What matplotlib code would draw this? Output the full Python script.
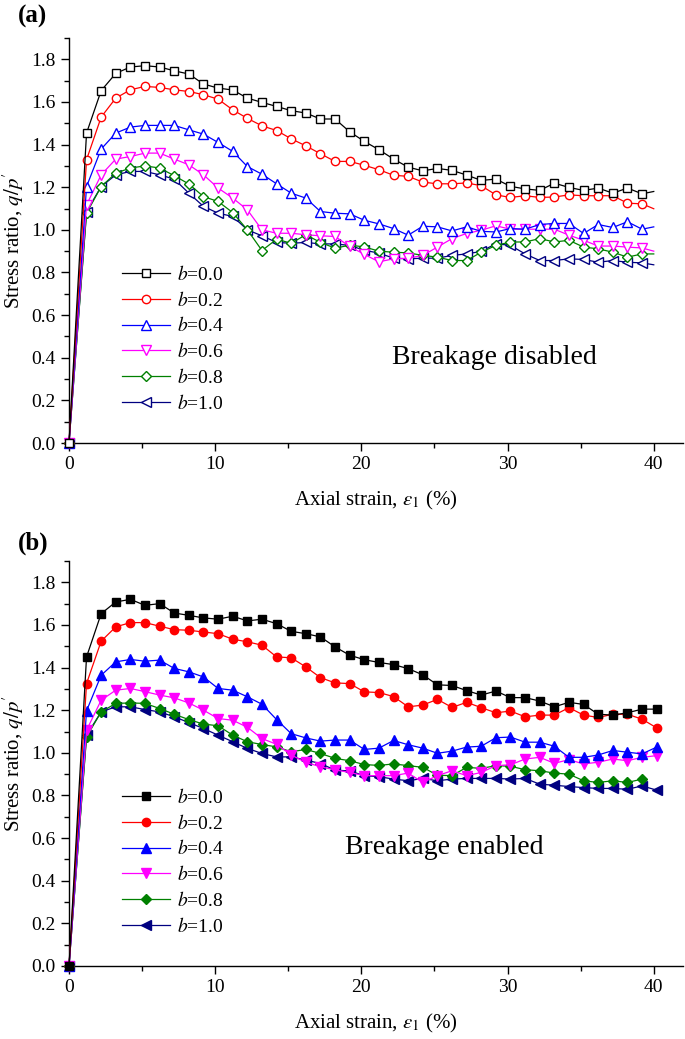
import matplotlib
matplotlib.use("Agg")
import matplotlib.pyplot as plt
from matplotlib.ticker import MultipleLocator

plt.rcParams['font.family'] = ['Liberation Serif', 'DejaVu Serif']
plt.rcParams['mathtext.fontset'] = 'stix'

# axial strain (%) of the plotted points
strain_a = [0, 1.2, 2.2, 3.2, 4.2, 5.2, 6.2, 7.2, 8.2, 9.2, 10.2, 11.2, 12.2, 13.2,
            14.2, 15.2, 16.2, 17.2, 18.2, 19.2, 20.2, 21.2, 22.2, 23.2, 24.2, 25.2,
            26.2, 27.2, 28.2, 29.2, 30.2, 31.2, 32.2, 33.2, 34.2, 35.2, 36.2, 37.2,
            38.2, 39.2, 40.0]
strain_b = [0, 1.2, 2.2, 3.2, 4.2, 5.2, 6.2, 7.2, 8.2, 9.2, 10.2, 11.2, 12.2, 13.2,
            14.2, 15.2, 16.2, 17.2, 18.2, 19.2, 20.2, 21.2, 22.2, 23.2, 24.2, 25.2,
            26.2, 27.2, 28.2, 29.2, 30.2, 31.2, 32.2, 33.2, 34.2, 35.2, 36.2, 37.2,
            38.2, 39.2, 40.2]

labels = ["0.0", "0.2", "0.4", "0.6", "0.8", "1.0"]

# (a) breakage disabled
a_b00 = [0, 1.454, 1.653, 1.734, 1.764, 1.770, 1.764, 1.746, 1.731, 1.684, 1.665, 1.656,
         1.618, 1.598, 1.579, 1.559, 1.548, 1.520, 1.520, 1.460, 1.415, 1.376, 1.332,
         1.294, 1.277, 1.288, 1.279, 1.257, 1.232, 1.238, 1.204, 1.192, 1.185, 1.219,
         1.199, 1.185, 1.196, 1.172, 1.196, 1.169, 1.180]
a_b02 = [0, 1.329, 1.529, 1.618, 1.657, 1.673, 1.668, 1.657, 1.649, 1.634, 1.613, 1.563,
         1.523, 1.488, 1.466, 1.427, 1.394, 1.357, 1.321, 1.321, 1.303, 1.282, 1.256,
         1.251, 1.224, 1.216, 1.216, 1.220, 1.207, 1.164, 1.152, 1.160, 1.152, 1.154,
         1.164, 1.160, 1.160, 1.160, 1.125, 1.122, 1.099]
a_b04 = [0, 1.203, 1.379, 1.454, 1.482, 1.490, 1.490, 1.490, 1.469, 1.449, 1.410, 1.368,
         1.297, 1.261, 1.216, 1.172, 1.149, 1.086, 1.078, 1.075, 1.045, 1.028, 1.006,
         0.975, 1.017, 1.014, 0.995, 1.014, 0.993, 0.990, 1.006, 1.003, 1.025, 1.030,
         1.030, 0.983, 1.025, 1.011, 1.038, 1.003, 1.014]
a_b06 = [0, 1.117, 1.258, 1.332, 1.344, 1.360, 1.360, 1.332, 1.305, 1.258, 1.196, 1.149,
         1.094, 1.000, 0.984, 0.984, 0.977, 0.972, 0.969, 0.922, 0.885, 0.850, 0.864,
         0.867, 0.880, 0.919, 0.959, 0.983, 0.998, 1.019, 1.003, 1.003, 1.003, 1.003,
         0.975, 0.951, 0.924, 0.924, 0.919, 0.915, 0.900]
a_b08 = [0, 1.078, 1.203, 1.266, 1.290, 1.300, 1.290, 1.254, 1.215, 1.156, 1.133, 1.081,
         1.000, 0.903, 0.956, 0.937, 0.977, 0.941, 0.914, 0.928, 0.920, 0.900, 0.895,
         0.892, 0.880, 0.872, 0.856, 0.856, 0.895, 0.927, 0.943, 0.943, 0.959, 0.943,
         0.951, 0.919, 0.911, 0.895, 0.872, 0.887, 0.887]
a_b10 = [0, 1.086, 1.203, 1.258, 1.274, 1.274, 1.258, 1.238, 1.172, 1.110, 1.078, 1.063,
         1.000, 0.972, 0.941, 0.937, 0.941, 0.934, 0.934, 0.927, 0.904, 0.891, 0.867,
         0.864, 0.867, 0.867, 0.880, 0.887, 0.899, 0.935, 0.927, 0.887, 0.856, 0.856,
         0.864, 0.861, 0.848, 0.856, 0.848, 0.845, 0.836]

# (b) breakage enabled
b_b00 = [0, 1.450, 1.653, 1.708, 1.720, 1.692, 1.700, 1.656, 1.645, 1.633, 1.627, 1.641,
         1.619, 1.627, 1.606, 1.570, 1.559, 1.544, 1.497, 1.458, 1.437, 1.424, 1.414,
         1.395, 1.366, 1.319, 1.316, 1.292, 1.271, 1.290, 1.259, 1.259, 1.243, 1.216,
         1.237, 1.227, 1.181, 1.177, 1.188, 1.205, 1.205]
b_b02 = [0, 1.325, 1.524, 1.591, 1.611, 1.611, 1.594, 1.578, 1.575, 1.567, 1.559, 1.533,
         1.521, 1.505, 1.450, 1.446, 1.403, 1.353, 1.328, 1.325, 1.286, 1.283, 1.264,
         1.216, 1.224, 1.251, 1.213, 1.237, 1.212, 1.188, 1.196, 1.169, 1.177, 1.177,
         1.212, 1.177, 1.166, 1.181, 1.181, 1.158, 1.117]
b_b04 = [0, 1.197, 1.364, 1.427, 1.438, 1.430, 1.435, 1.396, 1.380, 1.356, 1.302, 1.294,
         1.263, 1.228, 1.156, 1.090, 1.070, 1.055, 1.060, 1.060, 1.016, 1.022, 1.058,
         1.038, 1.022, 0.998, 1.008, 1.027, 1.031, 1.071, 1.074, 1.050, 1.050, 1.031,
         0.979, 0.979, 0.990, 1.011, 1.003, 0.995, 1.027]
b_b06 = [0, 1.106, 1.247, 1.294, 1.302, 1.287, 1.271, 1.258, 1.234, 1.200, 1.161, 1.153,
         1.120, 1.067, 1.040, 0.990, 0.955, 0.935, 0.920, 0.908, 0.893, 0.893, 0.893,
         0.905, 0.861, 0.893, 0.916, 0.893, 0.908, 0.940, 0.944, 0.971, 0.979, 0.951,
         0.968, 0.948, 0.956, 0.971, 0.963, 0.979, 0.987]
b_b08 = [0, 1.075, 1.192, 1.232, 1.234, 1.232, 1.208, 1.181, 1.156, 1.135, 1.127, 1.083,
         1.052, 1.039, 1.028, 1.005, 1.016, 0.997, 0.974, 0.963, 0.945, 0.941, 0.948,
         0.940, 0.932, 0.895, 0.893, 0.932, 0.927, 0.940, 0.937, 0.921, 0.916, 0.905,
         0.900, 0.869, 0.861, 0.869, 0.861, 0.877]
b_b10 = [0, 1.083, 1.192, 1.216, 1.216, 1.203, 1.192, 1.169, 1.142, 1.114, 1.083, 1.052,
         1.021, 0.997, 0.981, 0.981, 0.966, 0.950, 0.919, 0.915, 0.893, 0.888, 0.877,
         0.869, 0.880, 0.869, 0.877, 0.880, 0.880, 0.880, 0.877, 0.880, 0.853, 0.848,
         0.842, 0.837, 0.833, 0.833, 0.829, 0.845, 0.825]

colors = ['black', 'red', 'blue', 'magenta', 'green', 'navy']
markers = ['s', 'o', '^', 'v', 'D', '<']
msizes = [5.5, 6, 6.5, 6.5, 5.5, 6.5]

W, H = 685, 1039
fig = plt.figure(figsize=(W / 100, H / 100), dpi=100)
ax1 = fig.add_axes([69 / W, (H - 443) / H, 614 / W, 405 / H])
ax2 = fig.add_axes([69 / W, (H - 966) / H, 614 / W, 405 / H])

panels = [
    (ax1, strain_a, [a_b00, a_b02, a_b04, a_b06, a_b08, a_b10], False,
     'Breakage disabled', (29.1, 0.40), '(a)', 16),
    (ax2, strain_b, [b_b00, b_b02, b_b04, b_b06, b_b08, b_b10], True,
     'Breakage enabled', (25.7, 0.555), '(b)', 543),
]

for ax, x, series, filled, note, note_xy, tag, tag_y in panels:
    for i, y in enumerate(series):
        n = len(y)
        # in (a) the curve runs past the last marker
        mk = slice(0, n - 1) if not filled else slice(0, n)
        ax.plot(x[:n], y, color=colors[i], lw=0.9, marker=markers[i],
                ms=msizes[i], mec=colors[i], mew=1.0,
                mfc=colors[i] if filled else 'white', markevery=mk,
                clip_on=False, label=r'$b$=' + labels[i], zorder=3 + (6 - i) * 0.1)
    ax.set_xlim(0, 42)
    ax.set_ylim(0, 1.9)
    ax.xaxis.set_major_locator(MultipleLocator(10))
    ax.xaxis.set_minor_locator(MultipleLocator(5))
    ax.yaxis.set_major_locator(MultipleLocator(0.2))
    ax.yaxis.set_minor_locator(MultipleLocator(0.1))
    ax.yaxis.set_major_formatter(plt.FormatStrFormatter('%.1f'))
    ax.spines['top'].set_visible(False)
    ax.spines['right'].set_visible(False)
    for s in ['left', 'bottom']:
        ax.spines[s].set_linewidth(1.0)
    ax.tick_params(which='major', direction='out', length=6, width=1.0, labelsize=14)
    ax.tick_params(which='minor', direction='out', length=3.5, width=1.0)
    ax.set_xlabel(r'Axial strain, $\varepsilon_1$ (%)', fontsize=15, labelpad=11)
    ax.set_ylabel(r"Stress ratio, $q/p'$", fontsize=15, labelpad=4)
    ax.text(note_xy[0], note_xy[1], note, fontsize=20, ha='center', va='center')
    ax.legend(loc='upper left', bbox_to_anchor=(0.086, 0.44), frameon=False,
              fontsize=14, handlelength=2.5, handletextpad=0.35,
              labelspacing=0.35, borderpad=0, borderaxespad=0)
    fig.text(18 / W, 1 - tag_y / H, tag, fontsize=18, fontweight='bold',
             ha='left', va='center')

fig.savefig('out.png', dpi=100)
